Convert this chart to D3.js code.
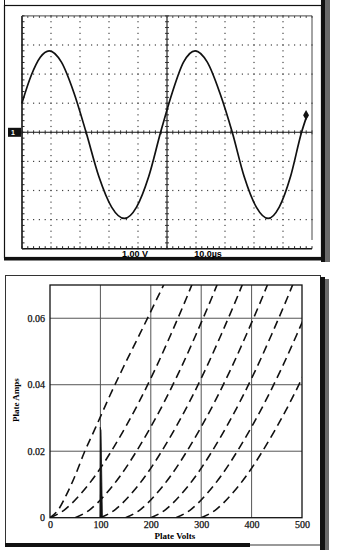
<!DOCTYPE html>
<html>
<head>
<meta charset="utf-8">
<script src="https://cdn.jsdelivr.net/npm/d3@7"></script>
<style>
  body { margin: 0; background: #fff; }
  svg { display: block; }
</style>
</head>
<body>
<div id="chart"></div>
<script>
// Scope trace: time in µs (10 µs/div), volts (1 V/div)
const traceTime  = [0, 3.2, 6.3, 9.4, 13.6, 17.9, 22.1, 26.5, 30.9, 35.3, 39.5, 43.7, 47.8,
                    51.8, 55.7, 59.7, 63.9, 68.2, 72.5, 76.6, 80.8, 84.9, 88.7, 92.6, 96.4, 98.3];
const traceVolts = [1.01, 1.96, 2.58, 2.80, 2.41, 1.36, 0, -1.52, -2.57, -2.96, -2.57, -1.52, 0,
                    1.36, 2.41, 2.80, 2.41, 1.36, 0, -1.52, -2.57, -2.96, -2.57, -1.52, 0, 0.59];
const scopeTimeDivs = [0, 10, 20, 30, 40, 50, 60, 70, 80, 90, 100];
const scopeVoltDivs = [-4, -3, -2, -1, 0, 1, 2, 3, 4];
const scopeReadout = ["1.00 V", "10.0µs"];

// Plate curves: current points shared, plate volts read for each curve
const plateAmps = [0, 0.0025, 0.007, 0.0127, 0.0196, 0.0273, 0.0358, 0.0451, 0.0552, 0.0658, 0.0771];
const plateCurve1 = [0, 17, 33, 50, 68, 91, 116, 145, 178, 212, 248];
const plateCurve2 = [0, 30, 60, 90, 120, 150, 180, 210, 240, 270, 300];
const plateCurve3 = [50, 80, 110, 140, 170, 200, 230, 260, 290, 320, 350];
const plateCurve4 = [100, 130, 160, 190, 220, 250, 280, 310, 340, 370, 400];
const plateCurve5 = [150, 180, 210, 240, 270, 300, 330, 360, 390, 420, 450];
const plateCurve6 = [200, 230, 260, 290, 320, 350, 380, 410, 440, 470, 500];
const plateCurve7 = [250, 280, 310, 340, 370, 400, 430, 460, 490, 520, 550];
const plateCurve8 = [300, 330, 360, 390, 420, 450, 480, 510, 540, 570, 600];
const spikeVolts = [99, 99.6, 101.2, 104];
const spikeAmps  = [0, 0.0272, 0.0262, 0];
const plateVoltTicks = [0, 100, 200, 300, 400, 500];
const plateAmpTicks = [0, 0.02, 0.04, 0.06];

const svg = d3.select("#chart")
  .append("svg")
    .attr("width", 338)
    .attr("height", 558);

// ---------- scanned page borders ----------
const deco = svg.append("g");
deco.append("rect").attr("x", 4.5).attr("y", 5.5).attr("width", 317).attr("height", 252)
  .attr("fill", "none").attr("stroke", "#111").attr("stroke-width", 1.2);
deco.append("line").attr("x1", 4.5).attr("x2", 4.5).attr("y1", 0).attr("y2", 6).attr("stroke", "#111");
deco.append("rect").attr("x", 4).attr("y", 257.5).attr("width", 318).attr("height", 3).attr("fill", "#111");
deco.append("rect").attr("x", 321).attr("y", 0).attr("width", 4).attr("height", 262).attr("fill", "#111");
deco.append("rect").attr("x", 325).attr("y", 0).attr("width", 5).attr("height", 262).attr("fill", "#6a6a6a");

deco.append("rect").attr("x", 5.5).attr("y", 275.5).attr("width", 315).attr("height", 269)
  .attr("fill", "none").attr("stroke", "#333").attr("stroke-width", 1);
deco.append("rect").attr("x", 5).attr("y", 543).attr("width", 245).attr("height", 4).attr("fill", "#111");
deco.append("rect").attr("x", 250).attr("y", 544).attr("width", 72).attr("height", 2).attr("fill", "#999");
deco.append("rect").attr("x", 320).attr("y", 277).attr("width", 5).attr("height", 273).attr("fill", "#111");
deco.append("rect").attr("x", 325).attr("y", 279).attr("width", 4).attr("height", 271).attr("fill", "#6a6a6a");

// ---------- oscilloscope ----------
const sx = d3.scaleLinear().domain([0, 100]).range([22, 312]);
const sy = d3.scaleLinear().domain([-4, 4]).range([248.7, 15.9]);
const minorT = d3.range(0, 100.01, 2);
const minorV = d3.range(-4, 4.001, 0.2);
const scope = svg.append("g");

// dotted graticule
const innerT = scopeTimeDivs.filter(d => d !== 0 && d !== 50 && d !== 100);
const innerV = scopeVoltDivs.filter(d => d !== -4 && d !== 0 && d !== 4);
scope.selectAll(".vdot")
  .data(d3.cross(innerT, minorV))
  .enter().append("rect")
    .attr("x", d => sx(d[0]) - 0.6)
    .attr("y", d => sy(d[1]) - 0.6)
    .attr("width", 1.2).attr("height", 1.2)
    .attr("fill", "#444");
scope.selectAll(".hdot")
  .data(d3.cross(minorT, innerV))
  .enter().append("rect")
    .attr("x", d => sx(d[0]) - 0.6)
    .attr("y", d => sy(d[1]) - 0.6)
    .attr("width", 1.2).attr("height", 1.2)
    .attr("fill", "#444");

// center axes with minor ticks
scope.append("line").attr("x1", sx(50)).attr("x2", sx(50)).attr("y1", sy(-4)).attr("y2", sy(4))
  .attr("stroke", "#111").attr("stroke-width", 1.1);
scope.append("line").attr("x1", sx(0)).attr("x2", sx(100)).attr("y1", sy(0)).attr("y2", sy(0))
  .attr("stroke", "#111").attr("stroke-width", 1.1);
scope.selectAll(".ctv")
  .data(minorV)
  .enter().append("line")
    .attr("x1", sx(50) - 2).attr("x2", sx(50) + 2)
    .attr("y1", d => sy(d)).attr("y2", d => sy(d))
    .attr("stroke", "#222").attr("stroke-width", 0.9);
scope.selectAll(".cth")
  .data(minorT)
  .enter().append("line")
    .attr("x1", d => sx(d)).attr("x2", d => sx(d))
    .attr("y1", sy(0) - 2).attr("y2", sy(0) + 2)
    .attr("stroke", "#222").attr("stroke-width", 0.9);

// screen edges
scope.append("line").attr("x1", sx(0)).attr("x2", sx(0)).attr("y1", sy(4)).attr("y2", sy(-4))
  .attr("stroke", "#111").attr("stroke-width", 1.6);
scope.append("line").attr("x1", sx(0)).attr("x2", sx(100)).attr("y1", sy(-4)).attr("y2", sy(-4))
  .attr("stroke", "#111").attr("stroke-width", 1.4);
scope.append("line").attr("x1", sx(0)).attr("x2", sx(100)).attr("y1", sy(4)).attr("y2", sy(4))
  .attr("stroke", "#333").attr("stroke-width", 0.9);
scope.append("line").attr("x1", sx(100)).attr("x2", sx(100)).attr("y1", sy(4)).attr("y2", sy(-3.7))
  .attr("stroke", "#333").attr("stroke-width", 0.9);
scope.selectAll(".etl")
  .data(minorV)
  .enter().append("line")
    .attr("x1", sx(0)).attr("x2", sx(0) + 2.5)
    .attr("y1", d => sy(d)).attr("y2", d => sy(d))
    .attr("stroke", "#222");
scope.selectAll(".etb")
  .data(minorT)
  .enter().append("line")
    .attr("x1", d => sx(d)).attr("x2", d => sx(d))
    .attr("y1", sy(-4)).attr("y2", sy(-4) - 2.5)
    .attr("stroke", "#222");
scope.selectAll(".ett")
  .data(minorT)
  .enter().append("line")
    .attr("x1", d => sx(d)).attr("x2", d => sx(d))
    .attr("y1", sy(4)).attr("y2", sy(4) + 2)
    .attr("stroke", "#444");

// trace
const trace = traceTime.map((t, i) => ({ t, v: traceVolts[i] }));
scope.append("path")
  .datum(trace)
  .attr("fill", "none")
  .attr("stroke", "#111")
  .attr("stroke-width", 1.7)
  .attr("d", d3.line().x(d => sx(d.t)).y(d => sy(d.v)).curve(d3.curveMonotoneX));

const last = trace[trace.length - 1];
scope.append("path")
  .attr("d", d3.symbol(d3.symbolDiamond, 30))
  .attr("transform", `translate(${sx(last.t) - 1},${sy(last.v)})`)
  .attr("fill", "#111");

// ground marker
scope.append("rect").attr("x", 8).attr("y", sy(0) - 4.5).attr("width", 13).attr("height", 9).attr("fill", "#111");
scope.append("text").attr("x", 11).attr("y", sy(0) + 3)
  .attr("fill", "#fff").style("font", "bold 7px 'Liberation Sans'").text("1");

// readouts
scope.selectAll(".readout")
  .data(scopeReadout)
  .enter().append("text")
    .attr("x", (d, i) => i === 0 ? 135 : 208)
    .attr("y", 256.5)
    .attr("text-anchor", "middle")
    .style("font", "bold 9px 'Liberation Sans', sans-serif")
    .text(d => d);

// ---------- plate curves ----------
const px = d3.scaleLinear().domain([0, 500]).range([50, 302]);
const py = d3.scaleLinear().domain([0, 0.07]).range([517.7, 285]);
const plate = svg.append("g");

svg.append("clipPath").attr("id", "plotClip")
  .append("rect")
    .attr("x", px(0)).attr("y", py(0.07))
    .attr("width", px(500) - px(0)).attr("height", py(0) - py(0.07));

// grid
plate.selectAll(".gx")
  .data(plateVoltTicks.filter(d => d > 0 && d < 500))
  .enter().append("line")
    .attr("x1", d => px(d)).attr("x2", d => px(d))
    .attr("y1", py(0)).attr("y2", py(0.07))
    .attr("stroke", "#555").attr("stroke-width", 1);
plate.selectAll(".gy")
  .data(plateAmpTicks.filter(d => d > 0))
  .enter().append("line")
    .attr("x1", px(0)).attr("x2", px(500))
    .attr("y1", d => py(d)).attr("y2", d => py(d))
    .attr("stroke", "#555").attr("stroke-width", 1);

// curves
const curves = [plateCurve1, plateCurve2, plateCurve3, plateCurve4,
                plateCurve5, plateCurve6, plateCurve7, plateCurve8];
const plateLine = d3.line()
  .x(d => px(d[0]))
  .y(d => py(d[1]))
  .curve(d3.curveMonotoneX);

plate.append("g")
  .attr("clip-path", "url(#plotClip)")
  .selectAll("path")
  .data(curves)
  .enter().append("path")
    .attr("fill", "none")
    .attr("stroke", "#111")
    .attr("stroke-width", 1.6)
    .attr("stroke-dasharray", "8.5,5")
    .attr("d", c => plateLine(c.map((v, i) => [v, plateAmps[i]])));

plate.append("path")
  .datum(spikeVolts.map((v, i) => [v, spikeAmps[i]]))
  .attr("fill", "#111")
  .attr("stroke", "#111")
  .attr("stroke-width", 0.8)
  .attr("d", d3.line().x(d => px(d[0])).y(d => py(d[1])));

// frame
plate.append("rect")
  .attr("x", px(0)).attr("y", py(0.07))
  .attr("width", px(500) - px(0)).attr("height", py(0) - py(0.07))
  .attr("fill", "none").attr("stroke", "#111").attr("stroke-width", 1.3);

// axes
const serif = "'Liberation Serif', 'DejaVu Serif', serif";
const yAxis = plate.append("g")
  .attr("transform", `translate(${px(0)},0)`)
  .call(d3.axisLeft(py).tickValues(plateAmpTicks).tickSize(0).tickPadding(5)
    .tickFormat(d => d === 0 ? "0" : d3.format(".2f")(d)));
const xAxis = plate.append("g")
  .attr("transform", `translate(0,${py(0)})`)
  .call(d3.axisBottom(px).tickValues(plateVoltTicks).tickSize(0).tickPadding(3));
[xAxis, yAxis].forEach(a => {
  a.select(".domain").remove();
  a.selectAll("text")
    .style("font-family", serif).style("font-size", "10px")
    .attr("fill", "#111").attr("stroke", "#111").attr("stroke-width", 0.25);
});

plate.append("text")
  .attr("x", 175).attr("y", 539)
  .attr("text-anchor", "middle")
  .style("font", `bold 9px ${serif}`)
  .text("Plate Volts");
plate.append("text")
  .attr("transform", "translate(19,400) rotate(-90)")
  .attr("text-anchor", "middle")
  .style("font", `bold 9px ${serif}`)
  .text("Plate Amps");
</script>
</body>
</html>
